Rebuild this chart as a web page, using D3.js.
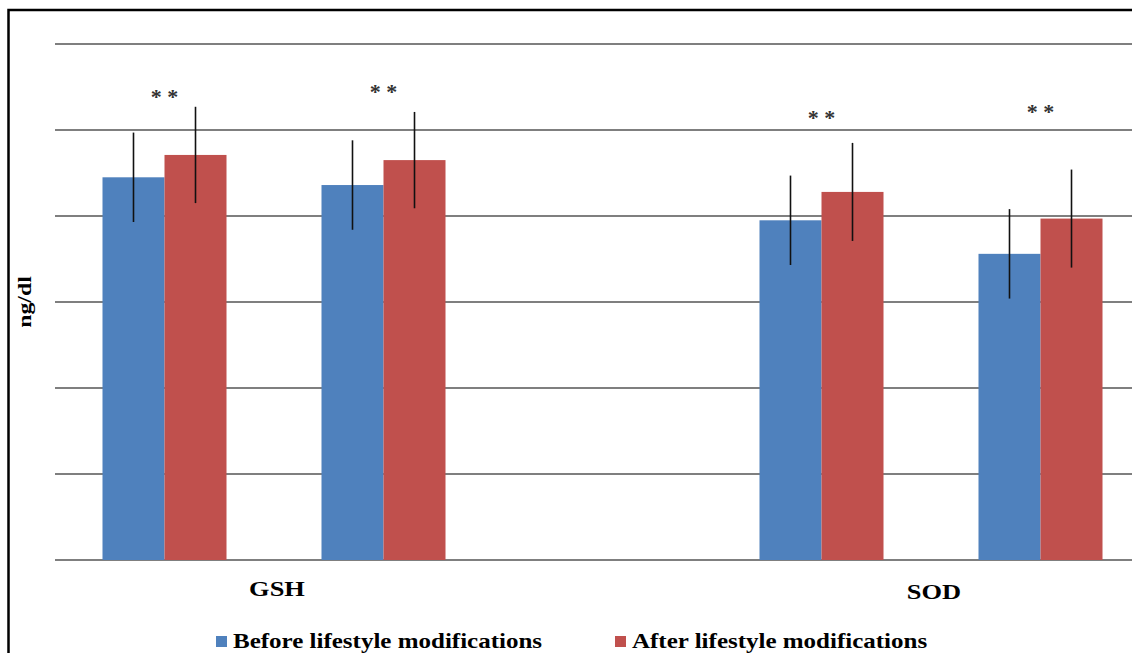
<!DOCTYPE html>
<html>
<head>
    <title>GSH and SOD - before / after</title>
    <script src="https://d3js.org/d3.v7.min.js"></script>
    <style>
        body { margin: 0; background: #fff; overflow: hidden; }
        text { font-family: "Liberation Serif", "Times New Roman", serif; }
    </style>
</head>
<body>
<div id="chart"></div>
<script>
// slots along the axis: two bar pairs per marker, empty slot in between
const slots = ["GSH 1", "GSH 2", "gap", "SOD 1", "SOD 2"];
const groups = ["GSH 1", "GSH 2", "SOD 1", "SOD 2"];
const categories = ["GSH", "SOD"];
const categorySlots = [["GSH 1", "GSH 2"], ["SOD 1", "SOD 2"]];
const series = ["Before lifestyle modifications", "After lifestyle modifications"];

const before = [4.45, 4.36, 3.95, 3.56];
const after = [4.71, 4.65, 4.28, 3.97];
const beforeErr = [0.52, 0.52, 0.52, 0.52];
const afterErr = [0.56, 0.56, 0.57, 0.57];
const starLevel = [5.43, 5.49, 5.19, 5.26];
const starText = ["* *", "* *", "* *", "* *"];
const gridTicks = [0, 1, 2, 3, 4, 5, 6];

const W = 1132, H = 653;
const colors = ["#4F81BD", "#C0504D"];
const stretch = 1.19; // the original's text is drawn a bit wide

const svg = d3.select("#chart")
    .append("svg")
    .attr("width", W)
    .attr("height", H);

function widen(sel, k) {
    sel.each(function () {
        const len = this.getComputedTextLength();
        d3.select(this)
            .attr("textLength", len * k)
            .attr("lengthAdjust", "spacingAndGlyphs");
    });
}

// outer frame
svg.append("rect")
    .attr("x", 8.5).attr("y", 10)
    .attr("width", 1200).attr("height", 700)
    .attr("fill", "none")
    .attr("stroke", "#000")
    .attr("stroke-width", 2.5);

const x0 = d3.scaleBand()
    .domain(slots)
    .range([55, 1150]);

const x1 = d3.scaleBand()
    .domain(series)
    .range([0, x0.bandwidth()])
    .paddingOuter(0.766);

const y = d3.scaleLinear()
    .domain([0, 6])
    .range([560, 44]);

// grid lines
svg.append("g")
    .selectAll("line")
    .data(gridTicks)
    .join("line")
    .attr("x1", 55)
    .attr("x2", 1150)
    .attr("y1", d => y(d))
    .attr("y2", d => y(d))
    .attr("stroke", "#555")
    .attr("stroke-width", 1.3);

const rows = groups.map((g, i) => ({
    group: g,
    vals: [
        { s: series[0], v: before[i], e: beforeErr[i], c: colors[0] },
        { s: series[1], v: after[i], e: afterErr[i], c: colors[1] }
    ],
    star: starLevel[i],
    starText: starText[i]
}));

const grp = svg.append("g")
    .selectAll("g")
    .data(rows)
    .join("g")
    .attr("transform", d => `translate(${x0(d.group)},0)`);

grp.selectAll("rect")
    .data(d => d.vals)
    .join("rect")
    .attr("x", d => x1(d.s))
    .attr("y", d => y(d.v))
    .attr("width", x1.bandwidth())
    .attr("height", d => y(0) - y(d.v))
    .attr("fill", d => d.c);

// error bars (no caps)
grp.selectAll("line.err")
    .data(d => d.vals)
    .join("line")
    .attr("class", "err")
    .attr("x1", d => x1(d.s) + x1.bandwidth() / 2)
    .attr("x2", d => x1(d.s) + x1.bandwidth() / 2)
    .attr("y1", d => y(d.v + d.e))
    .attr("y2", d => y(d.v - d.e))
    .attr("stroke", "#111")
    .attr("stroke-width", 1.6);

// significance stars
grp.append("text")
    .attr("x", x0.bandwidth() / 2)
    .attr("y", d => y(d.star))
    .attr("dy", 11)
    .attr("text-anchor", "middle")
    .attr("font-size", 22)
    .attr("font-weight", "bold")
    .attr("fill", "#333")
    .text(d => d.starText);

// category labels
svg.append("g")
    .selectAll("text")
    .data(categories)
    .join("text")
    .attr("x", (d, i) => {
        const a = x0(categorySlots[i][0]);
        const b = x0(categorySlots[i][1]) + x0.bandwidth();
        return (a + b) / 2 + 3;
    })
    .attr("y", (d, i) => 596 + i * 3)
    .attr("text-anchor", "middle")
    .attr("font-size", 22)
    .attr("font-weight", "bold")
    .attr("fill", "#000")
    .text(d => d)
    .call(widen, 1.2);

// y label
svg.append("text")
    .attr("transform", "translate(31,302) rotate(-90)")
    .attr("text-anchor", "middle")
    .attr("font-size", 19)
    .attr("font-weight", "bold")
    .text("ng/dl")
    .call(widen, 1.25);

// legend
const legendX = [216, 615];
const legend = svg.append("g")
    .selectAll("g")
    .data(series)
    .join("g")
    .attr("transform", (d, i) => `translate(${legendX[i]},636)`);

legend.append("rect")
    .attr("width", 11).attr("height", 11)
    .attr("fill", (d, i) => colors[i]);

legend.append("text")
    .attr("x", 17)
    .attr("y", 12)
    .attr("font-size", 21)
    .attr("font-weight", "bold")
    .text(d => d)
    .call(widen, stretch);
</script>
</body>
</html>
